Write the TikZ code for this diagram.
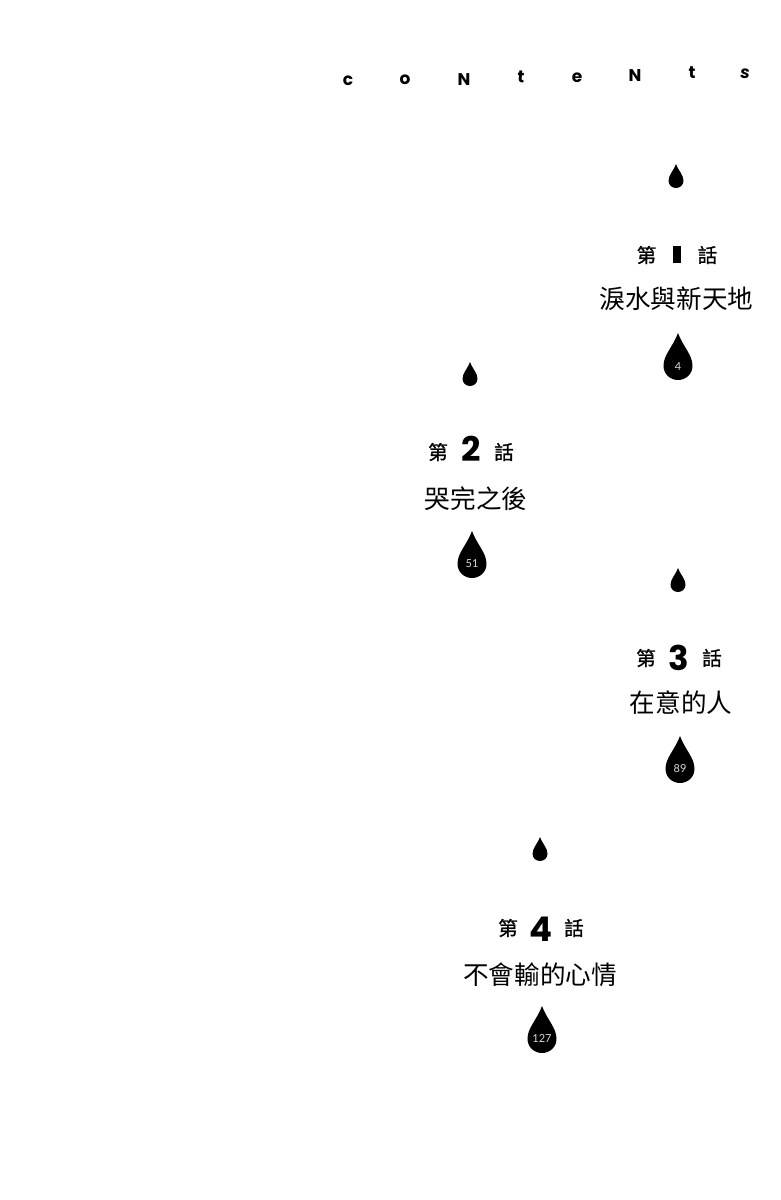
\documentclass[tikz,border=0pt]{standalone}
\usepackage{fontspec}
\newfontfamily\cjkfont{Noto Sans CJK TC}
\newfontfamily\cjkbold[FakeBold=1.2]{Noto Sans CJK TC}
\newfontfamily\decofont[BoldFont={Poppins Bold}]{Poppins}
\newfontfamily\pagefont{Lato}
\newcommand{\dropshape}[4]{%
  \fill[black,shift={(#1,#2)},xscale=#3,yscale=#4]
    (0,0) .. controls (0.36,0.3) and (1,0.46) .. (1,0.7)
    .. controls (1,0.87) and (0.55,1) .. (0,1)
    .. controls (-0.55,1) and (-1,0.87) .. (-1,0.7)
    .. controls (-1,0.46) and (-0.36,0.3) .. (0,0) -- cycle;}
\tikzset{
  deco/.style={inner sep=0pt,font={\decofont\bfseries\fontsize{17}{17}\selectfont},text=black},
  num/.style={inner sep=0pt,font={\decofont\bfseries\fontsize{34}{34}\selectfont},text=black},
  hua/.style={inner sep=0pt,font={\cjkbold\fontsize{19.5}{19.5}\selectfont},text=black},
  title/.style={inner sep=0pt,font={\cjkfont\fontsize{25.6}{25.6}\selectfont},text=black},
  page/.style={inner sep=0pt,font={\pagefont\fontsize{11}{11}\selectfont},text=white!85!black}
}
\begin{document}
\begin{tikzpicture}[x=1pt,y=-1pt]
\useasboundingbox (0,0) rectangle (780,1200);
\fill[white] (0,0) rectangle (780,1200);
% heading
\node[deco] (c1) at (348,81) {c};
\node[deco] (c2) at (405,80) {o};
\node[deco] (c3) at (464,80) {N};
\node[deco,rotate=-4] (c4) at (521,77) {t};
\node[deco] (c5) at (577,78) {e};
\node[deco] (c6) at (635,76) {N};
\node[deco] (c7) at (692,73) {t};
\node[deco,font={\decofont\bfseries\itshape\fontsize{17}{17}\selectfont}] (c8) at (745,74) {s};
% chapter 1
\dropshape{676}{164}{7.5}{24}
\node[hua] (a1) at (646.5,255) {第};
\fill[black] (673,246) rectangle (680.5,263);
\node[hua] (a3) at (707.5,255) {話};
\node[title] (at) at (676.5,299) {淚水與新天地};
\dropshape{678}{333}{14.5}{47}
\node[page] (ap) at (678,367) {4};
% chapter 2
\dropshape{470}{362}{7.5}{24}
\node[hua] (b1) at (438,452) {第};
\node[num] (b2) at (471,449) {2};
\node[hua] (b3) at (504,452) {話};
\node[title] (bt) at (476,499) {哭完之後};
\dropshape{472}{531}{14.5}{47}
\node[page] (bp) at (472,564) {51};
% chapter 3
\dropshape{678}{568}{7.5}{24}
\node[hua] (c1h) at (646,658) {第};
\node[num] (c2h) at (679,658) {3};
\node[hua] (c3h) at (712,658) {話};
\node[title] (ct) at (681,703) {在意的人};
\dropshape{680}{736}{14.5}{47}
\node[page] (cp) at (680,769) {89};
% chapter 4
\dropshape{540}{837}{7.5}{24}
\node[hua] (d1) at (508,928) {第};
\node[num] (d2) at (541,929) {4};
\node[hua] (d3) at (574,928) {話};
\node[title] (dt) at (540,975) {不會輸的心情};
\dropshape{542}{1006}{14.5}{47}
\node[page] (dp) at (542,1039) {127};
\end{tikzpicture}
\end{document}
